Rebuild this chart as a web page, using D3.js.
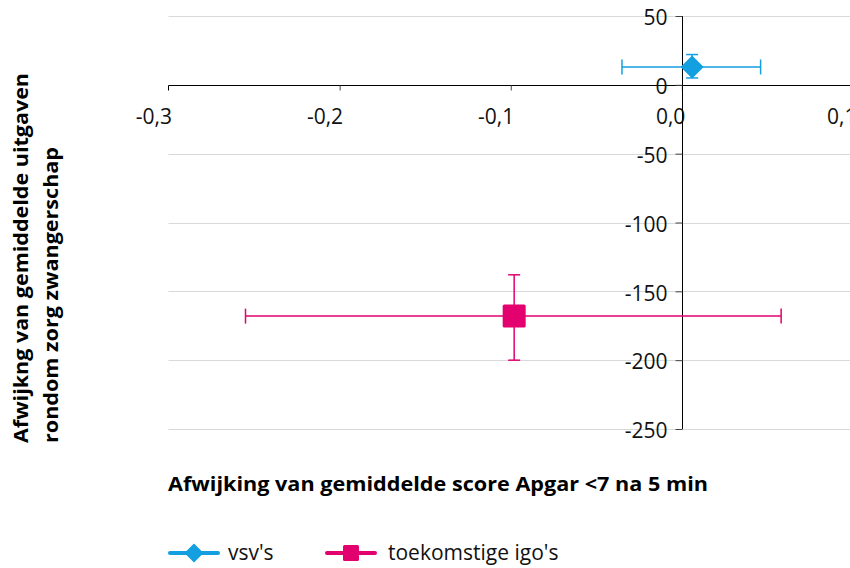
<!DOCTYPE html>
<html>
<head>
<meta charset="utf-8">
<script src="https://cdn.jsdelivr.net/npm/d3@7"></script>
<style>
  html, body { margin: 0; padding: 0; background: #fff; }
  svg { display: block; font-family: "Open Sans", "Noto Sans", sans-serif; }
</style>
</head>
<body>
<svg id="chart" width="850" height="568"></svg>
<script>
// Series: mean deviation (x: Apgar <7 score, y: expenditure) with 95% ranges
const seriesNames = ["vsv's", "toekomstige igo's"];
const seriesColors = ["#139FE0", "#E3006F"];
const seriesShapes = ["diamond", "square"];
const xValues = [0.006, -0.098];
const yValues = [13, -168];
const xLow = [-0.035, -0.255];
const xHigh = [0.046, 0.058];
const yLow = [5, -200];
const yHigh = [22, -138];

const xTicks = [-0.3, -0.2, -0.1, 0.0, 0.1];
const yTicks = [50, 0, -50, -100, -150, -200, -250];
const xTitle = "Afwijking van gemiddelde score Apgar <7 na 5 min";
const yTitleLines = ["Afwijkng van gemiddelde uitgaven", "rondom zorg zwangerschap"];

const svg = d3.select("#chart");
const W = 850, H = 568;

const x = d3.scaleLinear().domain([-0.3, 0.1]).range([168.5, 853]);
const y = d3.scaleLinear().domain([-250, 50]).range([429, 16]);

const fmt = v => d3.format(".1f")(v).replace(".", ",").replace("−", "-");

// Horizontal gridlines
svg.append("g")
  .selectAll("line")
  .data(yTicks.filter(v => v !== 0))
  .join("line")
  .attr("x1", x(-0.3)).attr("x2", W)
  .attr("y1", d => Math.round(y(d)) + 0.5).attr("y2", d => Math.round(y(d)) + 0.5)
  .attr("stroke", "#d9d9d9").attr("stroke-width", 1);

// X axis along y = 0
const xAxis = svg.append("g")
  .attr("transform", `translate(0,${Math.round(y(0)) + 0.5})`)
  .call(d3.axisBottom(x).tickValues(xTicks).tickSize(5).tickPadding(19).tickFormat(fmt));
xAxis.select(".domain").attr("d", `M${x(-0.3)},5V0H${W}`).attr("stroke", "#000");
xAxis.selectAll(".tick line").attr("stroke", "#444");
xAxis.selectAll(".tick text")
  .attr("text-anchor", "end")
  .attr("dx", 3)
  .attr("font-size", 21).attr("fill", "#111")
  .attr("font-family", "\"Open Sans\", sans-serif");
xAxis.selectAll(".tick").filter(d => d === -0.3).select("line").remove();

// Y axis along x = 0
const yAxis = svg.append("g")
  .attr("transform", `translate(${Math.round(x(0)) + 0.5},0)`)
  .call(d3.axisLeft(y).tickValues(yTicks).tickSize(7).tickPadding(8).tickFormat(d => String(d)));
yAxis.select(".domain").attr("d", `M0,${y(50)}V${y(-250)}`).attr("stroke", "#000");
yAxis.selectAll(".tick line").attr("stroke", "#444");
yAxis.selectAll(".tick text")
  .attr("y", 2)
  .attr("font-size", 21).attr("fill", "#111")
  .attr("font-family", "\"Open Sans\", sans-serif");

// Error bars and markers
const data = seriesNames.map((name, i) => ({
  name, color: seriesColors[i], shape: seriesShapes[i],
  x: xValues[i], y: yValues[i], xl: xLow[i], xh: xHigh[i], yl: yLow[i], yh: yHigh[i]
}));

const capX = 7.5, capY = 6;
const g = svg.append("g");
data.forEach(d => {
  const gg = g.append("g").attr("stroke", d.color).attr("stroke-width", 1.5).attr("fill", "none");
  gg.append("line").attr("x1", x(d.xl)).attr("x2", x(d.xh)).attr("y1", y(d.y)).attr("y2", y(d.y));
  gg.append("line").attr("x1", x(d.xl)).attr("x2", x(d.xl)).attr("y1", y(d.y) - capX).attr("y2", y(d.y) + capX);
  gg.append("line").attr("x1", x(d.xh)).attr("x2", x(d.xh)).attr("y1", y(d.y) - capX).attr("y2", y(d.y) + capX);
  gg.append("line").attr("x1", x(d.x)).attr("x2", x(d.x)).attr("y1", y(d.yl)).attr("y2", y(d.yh));
  gg.append("line").attr("x1", x(d.x) - capY).attr("x2", x(d.x) + capY).attr("y1", y(d.yl)).attr("y2", y(d.yl));
  gg.append("line").attr("x1", x(d.x) - capY).attr("x2", x(d.x) + capY).attr("y1", y(d.yh)).attr("y2", y(d.yh));
});

function drawMarker(sel, shape, cx, cy, r, color) {
  if (shape === "diamond") {
    sel.append("path")
      .attr("d", `M${cx},${cy - r}L${cx + r},${cy}L${cx},${cy + r}L${cx - r},${cy}Z`)
      .attr("fill", color).attr("stroke", color).attr("stroke-width", 1.5).attr("stroke-linejoin", "round");
  } else {
    sel.append("rect")
      .attr("x", cx - r).attr("y", cy - r).attr("width", 2 * r).attr("height", 2 * r)
      .attr("rx", 1.5).attr("fill", color);
  }
}
data.forEach(d => {
  drawMarker(g, d.shape, x(d.x), y(d.y), d.shape === "diamond" ? 10.5 : 11.5, d.color);
});

// Axis titles
svg.append("text")
  .attr("x", 168).attr("y", 491)
  .attr("font-size", 20).attr("font-weight", "bold").attr("fill", "#000")
  .attr("textLength", 540).attr("lengthAdjust", "spacingAndGlyphs")
  .text(xTitle);

const yt = svg.append("g");
yt.append("text")
  .attr("transform", "translate(28,443) rotate(-90)")
  .attr("font-size", 20).attr("font-weight", "bold").attr("fill", "#000")
  .attr("textLength", 370).attr("lengthAdjust", "spacingAndGlyphs")
  .text(yTitleLines[0]);
yt.append("text")
  .attr("transform", "translate(58,443) rotate(-90)")
  .attr("font-size", 20).attr("font-weight", "bold").attr("fill", "#000")
  .attr("textLength", 296).attr("lengthAdjust", "spacingAndGlyphs")
  .text(yTitleLines[1]);

// Legend
const legendX = [168, 325];
const legend = svg.append("g");
data.forEach((d, i) => {
  const lg = legend.append("g").attr("transform", `translate(${legendX[i]},553)`);
  lg.append("line").attr("x1", 2).attr("x2", 50).attr("y1", 0).attr("y2", 0)
    .attr("stroke", d.color).attr("stroke-width", 4).attr("stroke-linecap", "round");
  drawMarker(lg, d.shape, 26, 0, d.shape === "diamond" ? 8.5 : 8, d.color);
  lg.append("text").attr("x", i === 0 ? 60 : 63).attr("y", 7)
    .attr("font-size", 21).attr("fill", "#111").text(d.name);
});
</script>
</body>
</html>
